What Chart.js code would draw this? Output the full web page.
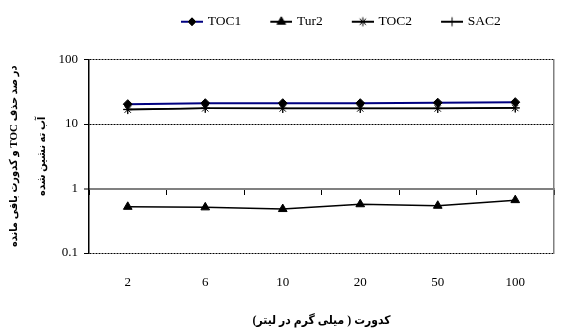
<!DOCTYPE html>
<html>
<head>
<meta charset="utf-8">
<script src="https://cdn.jsdelivr.net/npm/chart.js@4/dist/chart.umd.min.js"></script>
<style>
html, body { margin: 0; padding: 0; background: #fff; }
</style>
</head>
<body>
<canvas id="chart" width="563" height="332"></canvas>
<script>
// values
var labels = ['2', '6', '10', '20', '50', '100'];
var toc1 = [20.3, 21.0, 21.0, 21.0, 21.4, 21.8];
var tur2 = [0.52, 0.51, 0.48, 0.57, 0.54, 0.66];
var toc2 = [16.7, 17.5, 17.4, 17.4, 17.4, 17.7];
var sac2 = [16.9, 17.6, 17.5, 17.5, 17.5, 17.8];
var yTicks = [0.1, 1, 10, 100];
var yTickLabels = ['0.1', '1', '10', '100'];
var xTitle = 'کدورت ( میلی گرم در لیتر)';
var yTitle = ['در صد حذف TOC و کدورت باقی مانده', 'آب ته نشین شده'];

var serif = "'Liberation Serif', 'DejaVu Serif', serif";
var persian = "'Liberation Serif', 'DejaVu Sans Condensed', 'DejaVu Sans', sans-serif";
var legendShiftX = 152;
var legendShiftY = 21;

function rtl(s)
{
        return '\u202B' + s + '\u202C';
}

// little line + marker picture for each legend entry
function makeIcon(style, lineColor, radius)
{
        var c = document.createElement('canvas');
        c.width = 32;
        c.height = 12;
        var g = c.getContext('2d');
        g.strokeStyle = lineColor;
        g.lineWidth = 2;
        g.beginPath();
        g.moveTo(10, 6);
        g.lineTo(32, 6);
        g.stroke();
        g.fillStyle = '#000';
        g.strokeStyle = '#000';
        g.lineWidth = 1;
        Chart.helpers.drawPoint(g, {pointStyle: style, radius: radius, rotation: 0, borderWidth: 1}, 21, 6);
        return c;
}

var legendIcons = [
        makeIcon('rectRot', '#000080', 4),
        makeIcon('triangle', '#000', 5),
        makeIcon('star', '#000', 4.5),
        makeIcon('cross', '#000', 4.5)
];

// move the legend block to where the original has it
var legendOffset = {
        id: 'legendOffset',
        afterLayout: function(chart)
        {
                var lg = chart.legend;
                lg.left += legendShiftX;
                lg.right += legendShiftX;
                lg.top -= legendShiftY;
                lg.bottom -= legendShiftY;
        }
};

function isOne(ctx)
{
        return ctx.tick && ctx.tick.value === 1;
}

new Chart(document.getElementById('chart').getContext('2d'), {
        type: 'line',
        data: {
                labels: labels,
                datasets: [
                        { label: 'TOC1', data: toc1, borderColor: '#000080', borderWidth: 2, pointStyle: 'rectRot', pointRadius: 4.5,
                          pointBackgroundColor: '#000', pointBorderColor: '#000', pointBorderWidth: 1 },
                        { label: 'Tur2', data: tur2, borderColor: '#000', borderWidth: 1.5, pointStyle: 'triangle', pointRadius: 5,
                          pointBackgroundColor: '#000', pointBorderColor: '#000', pointBorderWidth: 1 },
                        { label: 'TOC2', data: toc2, borderColor: '#000', borderWidth: 1.5, pointStyle: 'star', pointRadius: 4.5,
                          pointBackgroundColor: '#000', pointBorderColor: '#000', pointBorderWidth: 1 },
                        { label: 'SAC2', data: sac2, borderColor: '#000', borderWidth: 1.5, pointStyle: 'cross', pointRadius: 4.5,
                          pointBackgroundColor: '#000', pointBorderColor: '#000', pointBorderWidth: 1 }
                ]
        },
        options: {
                responsive: false,
                animation: false,
                layout: { padding: { top: 15, left: 0, right: 9, bottom: 0 } },
                plugins: {
                        tooltip: { enabled: false },
                        legend: {
                                position: 'top',
                                align: 'start',
                                labels: {
                                        usePointStyle: true,
                                        pointStyleWidth: 28,
                                        padding: 21,
                                        color: '#000',
                                        font: { family: serif, size: 13.5 },
                                        generateLabels: function(chart)
                                        {
                                                return chart.data.datasets.map(function(ds, i) {
                                                        return { text: ds.label, pointStyle: legendIcons[i], fillStyle: '#000',
                                                                 strokeStyle: '#000', lineWidth: 0, hidden: false, datasetIndex: i };
                                                });
                                        }
                                }
                        }
                },
                scales: {
                        x: {
                                type: 'category',
                                offset: true,
                                grid: { display: false, drawTicks: false },
                                border: { display: false },
                                ticks: { color: '#000', font: { family: serif, size: 13 }, padding: 22, maxRotation: 0 },
                                title: { display: true, text: rtl(xTitle), color: '#000',
                                         font: { family: persian, size: 12, weight: 'bold' }, padding: { top: 1, bottom: 4 } }
                        },
                        x2: {
                                type: 'category',
                                offset: true,
                                position: { y: 1 },
                                ticks: { display: false },
                                grid: { display: true, drawOnChartArea: false, drawTicks: true, tickLength: 5,
                                        tickColor: '#000', tickWidth: 1, offset: true },
                                border: { display: true, color: '#808080', width: 2 }
                        },
                        y: {
                                type: 'logarithmic',
                                min: 0.1,
                                max: 100,
                                afterBuildTicks: function(axis)
                                {
                                        axis.ticks = yTicks.map(function(v) { return { value: v }; });
                                },
                                ticks: {
                                        color: '#000',
                                        font: { family: serif, size: 13 },
                                        padding: 6,
                                        callback: function(v)
                                        {
                                                var i = yTicks.indexOf(v);
                                                return i >= 0 ? yTickLabels[i] : '';
                                        }
                                },
                                grid: {
                                        color: function(ctx) { return isOne(ctx) ? '#808080' : '#000'; },
                                        lineWidth: function(ctx) { return isOne(ctx) ? 2 : 1; },
                                        drawTicks: true,
                                        tickLength: 5,
                                        tickColor: '#000',
                                        tickWidth: 1
                                },
                                border: {
                                        display: true,
                                        color: '#000',
                                        width: 1.5,
                                        dash: function(ctx) { return isOne(ctx) ? [] : [2, 1]; }
                                },
                                title: {
                                        display: true,
                                        text: yTitle.map(rtl),
                                        color: '#000',
                                        font: { family: persian, size: 11, weight: 'bold', lineHeight: 28 / 11 },
                                        padding: { top: 0, bottom: -3.5 }
                                }
                        },
                        y2: {
                                type: 'logarithmic',
                                min: 0.1,
                                max: 100,
                                position: 'right',
                                ticks: { display: false },
                                grid: { display: false, drawTicks: false },
                                border: { display: true, color: '#808080', width: 1.5 }
                        }
                }
        },
        plugins: [legendOffset]
});
</script>
</body>
</html>
